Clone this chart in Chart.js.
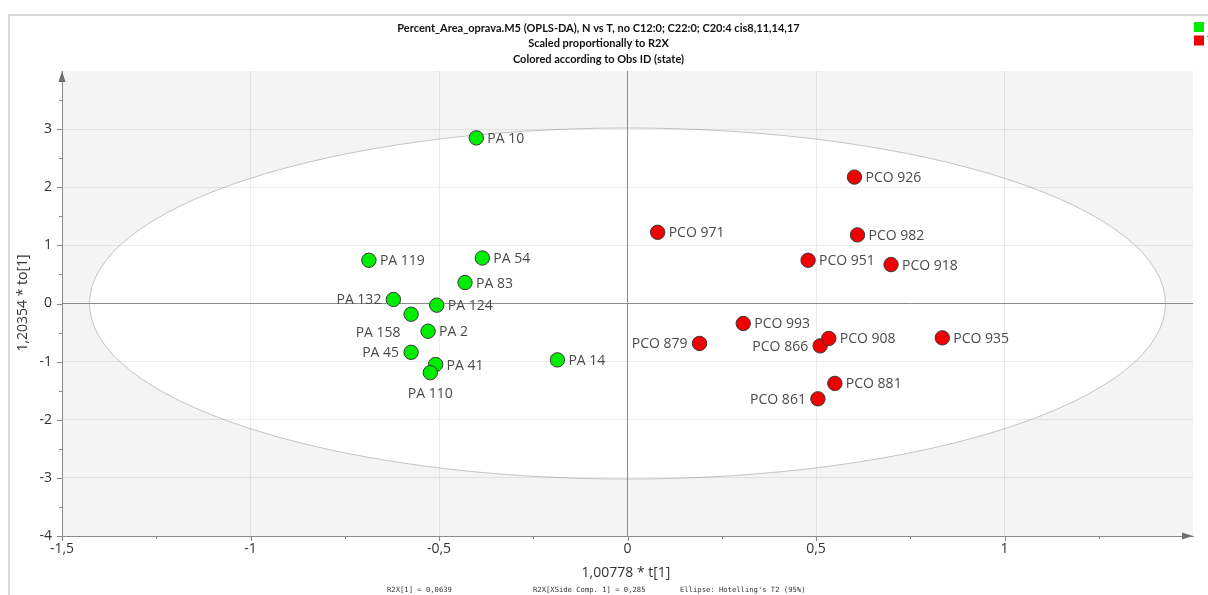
<!DOCTYPE html>
<html>
<head>
<meta charset="utf-8">
<script src="https://cdn.jsdelivr.net/npm/chart.js@4/dist/chart.umd.min.js"></script>
<style>
  html, body { margin: 0; padding: 0; background: #fff; overflow: hidden; }
  canvas { display: block; }
</style>
</head>
<body>
<canvas id="c" width="1208" height="595"></canvas>
<script>
// Class N observations: names, predictive score t[1], orthogonal score to[1]
const nNames = ['PA 10', 'PA 119', 'PA 54', 'PA 83', 'PA 132', 'PA 124', 'PA 158', 'PA 2', 'PA 45', 'PA 41', 'PA 110', 'PA 14'];
const nT     = [-0.401, -0.686, -0.385, -0.431, -0.621, -0.506, -0.574, -0.529, -0.574, -0.509, -0.523, -0.186];
const nTo    = [2.85, 0.744, 0.783, 0.361, 0.069, -0.029, -0.185, -0.477, -0.84, -1.05, -1.19, -0.97];

// Class T observations
const tNames = ['PCO 926', 'PCO 971', 'PCO 982', 'PCO 951', 'PCO 918', 'PCO 993', 'PCO 879', 'PCO 866', 'PCO 908', 'PCO 935', 'PCO 881', 'PCO 861'];
const tT     = [0.602, 0.080, 0.610, 0.479, 0.699, 0.307, 0.191, 0.511, 0.534, 0.835, 0.550, 0.505];
const tTo    = [2.175, 1.225, 1.18, 0.744, 0.67, -0.344, -0.687, -0.729, -0.601, -0.591, -1.375, -1.64];

// Axis tick values
const xTicks = [-1.5, -1, -0.5, 0, 0.5, 1];
const yTicks = [-4, -3, -2, -1, 0, 1, 2, 3];

// Hotelling's T2 (95%) ellipse semi-axes in score units
const ellipseT = 1.427;
const ellipseTo = 3.02;

// Texts
const titleLines = [
  'Percent_Area_oprava.M5 (OPLS-DA), N vs T, no C12:0; C22:0; C20:4 cis8,11,14,17',
  'Scaled proportionally to R2X',
  'Colored according to Obs ID (state)'
];
const xTitle = '1,00778 * t[1]';
const yTitle = '1,20354 * to[1]';
const footNotes = ['R2X[1] = 0,0639', 'R2X[XSide Comp. 1] = 0,285', "Ellipse: Hotelling's T2 (95%)"];

// Labels that sit somewhere other than to the right of their marker
const labelSide = {
  'PA 132': 'left', 'PA 45': 'left', 'PA 158': 'belowLeft', 'PA 110': 'below',
  'PCO 879': 'left', 'PCO 866': 'left', 'PCO 861': 'left'
};

const GREEN = '#00ec00';
const RED = '#f00000';
const fmt = v => String(v).replace('.', ',');

const toPoints = (xs, ys, names) => xs.map((x, i) => ({ x: x, y: ys[i], name: names[i] }));

const backdrop = {
  id: 'backdrop',
  beforeDraw(chart) {
    const { ctx, chartArea: a, scales: { x, y } } = chart;
    ctx.save();
    ctx.fillStyle = '#fff';
    ctx.fillRect(0, 0, chart.width, chart.height);
    // outer frame
    ctx.strokeStyle = '#d9d9d9';
    ctx.lineWidth = 2;
    ctx.beginPath();
    ctx.moveTo(9, chart.height);
    ctx.lineTo(9, 15);
    ctx.lineTo(chart.width, 15);
    ctx.stroke();
    // plot background
    ctx.fillStyle = '#f4f4f4';
    ctx.fillRect(a.left, a.top, a.right - a.left, a.bottom - a.top);
    // confidence ellipse
    const cx = x.getPixelForValue(0), cy = y.getPixelForValue(0);
    const rx = x.getPixelForValue(ellipseT) - cx;
    const ry = cy - y.getPixelForValue(ellipseTo);
    ctx.beginPath();
    ctx.ellipse(cx, cy, rx, ry, 0, 0, Math.PI * 2);
    ctx.fillStyle = '#ffffff';
    ctx.fill();
    ctx.lineWidth = 1;
    ctx.strokeStyle = '#c4c4c4';
    ctx.stroke();
    ctx.restore();
  }
};

const pointLabels = {
  id: 'pointLabels',
  afterDatasetsDraw(chart) {
    const { ctx } = chart;
    ctx.save();
    ctx.font = '14px "Open Sans"';
    ctx.fillStyle = '#4a4a4a';
    chart.data.datasets.forEach((ds, di) => {
      const meta = chart.getDatasetMeta(di);
      meta.data.forEach((el, i) => {
        const name = ds.data[i].name;
        const side = labelSide[name] || 'right';
        let tx = el.x, ty = el.y + 1;
        if (side === 'right') { ctx.textAlign = 'left'; tx += 11; }
        else if (side === 'left') { ctx.textAlign = 'right'; tx -= 12; }
        else if (side === 'below') { ctx.textAlign = 'center'; ty += 20; }
        else if (side === 'belowLeft') { ctx.textAlign = 'center'; tx -= 33; ty += 18; }
        ctx.textBaseline = 'middle';
        ctx.fillText(name, tx, ty);
      });
    });
    ctx.restore();
  }
};

const decorations = {
  id: 'decorations',
  afterDraw(chart) {
    const { ctx, chartArea: a, scales: { x, y } } = chart;
    ctx.save();
    // minor and major tick marks
    ctx.strokeStyle = '#8a8a8a';
    ctx.lineWidth = 1;
    ctx.beginPath();
    for (let v = x.min; v < x.max - 1e-9; v += 0.25) {
      const px = Math.round(x.getPixelForValue(v)) + 0.5;
      const major = Math.abs(v * 2 - Math.round(v * 2)) < 1e-9;
      ctx.moveTo(px, a.bottom);
      ctx.lineTo(px, a.bottom + (major ? 5 : 3));
    }
    for (let v = y.min; v < y.max - 1e-9; v += 0.5) {
      const py = Math.round(y.getPixelForValue(v)) + 0.5;
      const major = Math.abs(v - Math.round(v)) < 1e-9;
      ctx.moveTo(a.left, py);
      ctx.lineTo(a.left - (major ? 5 : 3), py);
    }
    ctx.stroke();
    // axis arrows
    ctx.fillStyle = '#707070';
    ctx.beginPath();
    ctx.moveTo(a.left, a.top);
    ctx.lineTo(a.left - 3.5, a.top + 11);
    ctx.lineTo(a.left + 3.5, a.top + 11);
    ctx.closePath();
    ctx.fill();
    ctx.beginPath();
    ctx.moveTo(a.right, a.bottom);
    ctx.lineTo(a.right - 11, a.bottom - 3.5);
    ctx.lineTo(a.right - 11, a.bottom + 3.5);
    ctx.closePath();
    ctx.fill();

    // title block
    ctx.fillStyle = '#111';
    ctx.textAlign = 'center';
    ctx.textBaseline = 'middle';
    ctx.font = 'bold 11px Lato';
    titleLines.forEach((t, i) => ctx.fillText(t, 598.5, 28 + i * 15.5));

    // axis titles
    ctx.fillStyle = '#333';
    ctx.font = '14px "Open Sans"';
    ctx.fillText(xTitle, 626, 573);
    ctx.save();
    ctx.translate(23, 303);
    ctx.rotate(-Math.PI / 2);
    ctx.fillText(yTitle, 0, 0);
    ctx.restore();

    // footnotes
    ctx.font = '7.2px "DejaVu Sans Mono"';
    ctx.textAlign = 'left';
    ctx.fillStyle = '#333';
    ctx.fillText(footNotes[0], 387, 590);
    ctx.fillText(footNotes[1], 533, 590);
    ctx.fillText(footNotes[2], 680, 590);

    // legend (class markers)
    ctx.font = '11px "Open Sans"';
    chart.data.datasets.forEach((ds, i) => {
      const top = 22 + i * 13.5;
      ctx.fillStyle = ds.backgroundColor;
      ctx.fillRect(1194, top, 10, 10);
      ctx.fillStyle = '#333';
      ctx.fillText(ds.label, 1207, top + 5);
    });
    ctx.restore();
  }
};

const gridColor = edge => ctx => {
  const v = ctx.tick && ctx.tick.value;
  if (v === edge) return 'rgba(0,0,0,0)';
  if (v === 0) return '#8c8c8c';
  return 'rgba(0,0,0,0.075)';
};

new Chart(document.getElementById('c'), {
  type: 'scatter',
  data: {
    datasets: [
      {
        label: 'N',
        data: toPoints(nT, nTo, nNames),
        backgroundColor: GREEN,
        borderColor: '#3a3a3a',
        borderWidth: 1,
        pointRadius: 7.2
      },
      {
        label: 'T',
        data: toPoints(tT, tTo, tNames),
        backgroundColor: RED,
        borderColor: '#3a3a3a',
        borderWidth: 1,
        pointRadius: 7.2
      }
    ]
  },
  options: {
    responsive: false,
    animation: false,
    events: [],
    layout: { padding: { top: 71, right: 15, left: 0, bottom: 0 } },
    plugins: {
      legend: { display: false },
      title: { display: false },
      tooltip: { enabled: false }
    },
    scales: {
      x: {
        type: 'linear',
        min: -1.5,
        max: 1.5,
        afterBuildTicks: s => { s.ticks = xTicks.map(v => ({ value: v })); },
        afterFit: s => { s.height = 59; },
        ticks: {
          callback: v => fmt(v),
          color: '#333',
          font: { family: 'Open Sans', size: 14 },
          padding: 5,
          maxRotation: 0,
          autoSkip: false
        },
        grid: { color: gridColor(-1.5), drawTicks: false, lineWidth: 1 },
        border: { display: true, color: '#8a8a8a', width: 1 }
      },
      y: {
        type: 'linear',
        min: -4,
        max: 4,
        afterBuildTicks: s => { s.ticks = yTicks.map(v => ({ value: v })); },
        afterFit: s => { s.width = 62; },
        ticks: {
          callback: v => fmt(v),
          color: '#333',
          font: { family: 'Open Sans', size: 14 },
          padding: 10,
          autoSkip: false
        },
        grid: { color: gridColor(-4), drawTicks: false, lineWidth: 1 },
        border: { display: true, color: '#8a8a8a', width: 1 }
      }
    }
  },
  plugins: [backdrop, pointLabels, decorations]
});
</script>
</body>
</html>
